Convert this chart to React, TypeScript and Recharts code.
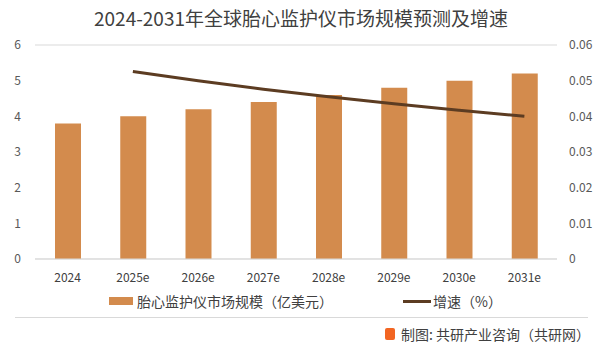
import { ComposedChart, Bar, Line, XAxis, YAxis, CartesianGrid } from "recharts";

const years = ["2024", "2025e", "2026e", "2027e", "2028e", "2029e", "2030e", "2031e"];
const marketSize = [3.8, 4.0, 4.2, 4.4, 4.6, 4.8, 5.0, 5.2];
const growth: (number | null)[] = [null, 0.0526, 0.05, 0.0476, 0.0455, 0.0435, 0.0417, 0.04];
const leftTicks = [0, 1, 2, 3, 4, 5, 6];
const rightTicks = [0, 0.01, 0.02, 0.03, 0.04, 0.05, 0.06];

const data = years.map((year, i) => ({ year, size: marketSize[i], growth: growth[i] }));

const FONT = '"Noto Sans CJK SC", "Noto Sans", sans-serif';
const BAR = "#D38B4D";
const LINE = "#5C3C22";
const TXT = "#595959";

export default function App() {
  return (
    <div style={{ position: "absolute", left: 0, top: 0, width: 602, height: 348, background: "#fff", fontFamily: FONT }}>
      <div style={{ position: "absolute", top: 4, left: 0, width: 602, textAlign: "center", fontSize: 19, color: "#404040" }}>
        2024-2031年全球胎心监护仪市场规模预测及增速
      </div>
      <ComposedChart
        width={602}
        height={348}
        data={data}
        margin={{ top: 45, right: 0, bottom: 59, left: 0 }}
      >
        <CartesianGrid vertical={false} stroke="#d9d9d9" />
        <XAxis
          dataKey="year"
          axisLine={{ stroke: "#d9d9d9" }}
          tickLine={false}
          height={30}
          tick={{ fontSize: 12, fill: "#404040", fontFamily: FONT }}
          tickMargin={8}
        />
        <YAxis
          yAxisId="l"
          domain={[0, 6]}
          ticks={leftTicks}
          width={35}
          axisLine={false}
          tickLine={false}
          tick={{ fontSize: 12, fill: TXT, fontFamily: FONT }}
          tickMargin={8}
        />
        <YAxis
          yAxisId="r"
          orientation="right"
          domain={[0, 0.06]}
          ticks={rightTicks}
          width={45}
          axisLine={false}
          tickLine={false}
          tick={{ fontSize: 12, fill: TXT, fontFamily: FONT, textAnchor: "start" }}
          tickMargin={6}
        />
        <Bar yAxisId="l" dataKey="size" fill={BAR} barSize={26} isAnimationActive={false} />
        <Line
          yAxisId="r"
          dataKey="growth"
          type="monotone"
          stroke={LINE}
          strokeWidth={3}
          dot={false}
          connectNulls={false}
          isAnimationActive={false}
        />
      </ComposedChart>
      {/* legend */}
      <div style={{ position: "absolute", top: 291, left: 109, display: "flex", alignItems: "center", fontSize: 14, color: "#404040" }}>
        <span style={{ display: "inline-block", width: 24, height: 8, background: BAR, marginRight: 4 }} />
        <span>胎心监护仪市场规模（亿美元）</span>
        <span style={{ display: "inline-block", width: 28, height: 3, background: LINE, marginLeft: 70, marginRight: 2 }} />
        <span>增速（%）</span>
      </div>
      <div style={{ position: "absolute", top: 317, left: 15, width: 573, height: 1, background: "#d9d9d9" }} />
      <div style={{ position: "absolute", top: 324, right: 12, display: "flex", alignItems: "center", fontSize: 14, color: "#404040" }}>
        <span style={{ display: "inline-block", width: 10, height: 12, background: "#F26522", marginRight: 6, borderRadius: 2 }} />
        <span>制图: 共研产业咨询（共研网）</span>
      </div>
    </div>
  );
}
